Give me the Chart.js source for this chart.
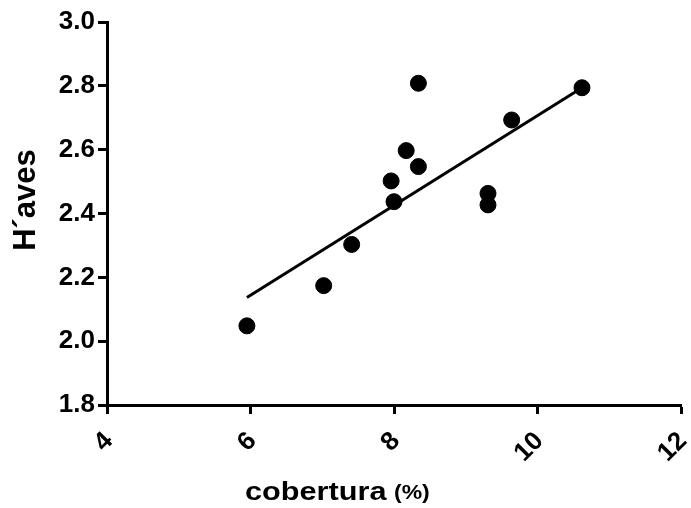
<!DOCTYPE html>
<html>
<head>
<meta charset="utf-8">
<script src="https://cdn.jsdelivr.net/npm/chart.js@4"></script>
<style>
  body { margin: 0; background: #fff; }
  #chart { display: block; }
</style>
</head>
<body>
<canvas id="chart" width="691" height="508"></canvas>
<script>
// values
const coberturaX = [5.95, 7.02, 7.41, 7.96, 8.00, 8.17, 8.34, 8.34, 9.31, 9.31, 9.64, 10.62];
const havesY = [2.048, 2.174, 2.303, 2.502, 2.437, 2.597, 2.547, 2.808, 2.463, 2.427, 2.693, 2.794];

// regression line, endpoints as drawn
const fitX = [5.95, 10.62];
const fitY = [2.137, 2.794];

const xTicks = [4, 6, 8, 10, 12];
const yTicks = [1.8, 2.0, 2.2, 2.4, 2.6, 2.8, 3.0];

const FONT = "'Liberation Sans', Arial, sans-serif";

// axis titles drawn by hand (mixed sizes on the x title)
const titlePlugin = {
    id: 'axisTitles',
    afterDraw(chart) {
        const ctx = chart.ctx;
        ctx.save();
        ctx.fillStyle = '#000';
        ctx.textBaseline = 'alphabetic';

        // y title
        ctx.save();
        ctx.translate(35, 200);
        ctx.rotate(-Math.PI / 2);
        ctx.textAlign = 'center';
        ctx.font = `bold 31px ${FONT}`;
        ctx.fillText('H\u00B4aves', 0, 0);
        ctx.restore();

        // x title
        ctx.save();
        ctx.translate(245, 500);
        ctx.scale(1.18, 1);
        ctx.textAlign = 'left';
        ctx.font = `bold 26px ${FONT}`;
        ctx.fillText('cobertura', 0, 0);
        ctx.restore();

        ctx.save();
        ctx.translate(394, 499);
        ctx.scale(1.15, 1);
        ctx.textAlign = 'left';
        ctx.font = `bold 20px ${FONT}`;
        ctx.fillText('(%)', 0, 0);
        ctx.restore();

        ctx.restore();
    }
};

const axisGrid = {
    drawOnChartArea: false,
    drawTicks: true,
    tickLength: 9,
    tickWidth: 3,
    tickColor: '#000'
};

new Chart(document.getElementById('chart'), {
    type: 'scatter',
    data: {
        datasets: [
            {
                label: 'ajuste',
                data: fitX.map((x, i) => ({ x, y: fitY[i] })),
                showLine: true,
                borderColor: '#000',
                borderWidth: 3,
                pointRadius: 0,
                fill: false
            },
            {
                label: 'H´aves',
                data: coberturaX.map((x, i) => ({ x, y: havesY[i] })),
                backgroundColor: '#000',
                borderColor: '#000',
                pointRadius: 8,
                pointHoverRadius: 8
            }
        ]
    },
    options: {
        responsive: false,
        animation: false,
        layout: { padding: { top: 22, right: 10, left: 0, bottom: 0 } },
        plugins: {
            legend: { display: false },
            tooltip: { enabled: false }
        },
        scales: {
            x: {
                type: 'linear',
                min: xTicks[0],
                max: xTicks[xTicks.length - 1],
                afterBuildTicks: (scale) => { scale.ticks = xTicks.map(v => ({ value: v })); },
                afterFit: (scale) => {
                    scale.height = 103;
                    scale.paddingLeft = 0;
                    scale.paddingRight = 0;
                },
                ticks: {
                    color: '#000',
                    font: { family: FONT, size: 26, weight: 'bold' },
                    minRotation: 45,
                    maxRotation: 45,
                    padding: 12,
                    labelOffset: 2
                },
                grid: axisGrid,
                border: { color: '#000', width: 3 }
            },
            y: {
                min: yTicks[0],
                max: yTicks[yTicks.length - 1],
                afterBuildTicks: (scale) => { scale.ticks = yTicks.map(v => ({ value: v })); },
                afterFit: (scale) => {
                    scale.width = 107;
                    scale.paddingTop = 0;
                    scale.paddingBottom = 0;
                },
                ticks: {
                    color: '#000',
                    font: { family: FONT, size: 26, weight: 'bold' },
                    padding: 3,
                    callback: (v) => Number(v).toFixed(1)
                },
                grid: axisGrid,
                border: { color: '#000', width: 3 }
            }
        }
    },
    plugins: [titlePlugin]
});
</script>
</body>
</html>
